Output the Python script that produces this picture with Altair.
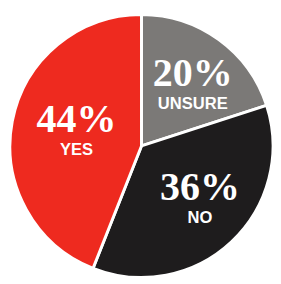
import altair as alt
import pandas as pd

answers = ["UNSURE", "NO", "YES"]
shares = [20, 36, 44]
pct_labels = ["20%", "36%", "44%"]
colors = ["#7b7977", "#1e1c1d", "#ee2a1f"]

df = pd.DataFrame({
    "answer": answers,
    "share": shares,
    "pct": pct_labels,
    "order": list(range(len(answers))),
})

cx, cy = 137, 138

base = alt.Chart(df).encode(
    theta=alt.Theta("share:Q", stack=True),
    order=alt.Order("order:Q"),
    x=alt.value(cx),
    y=alt.value(cy),
)

pie = base.mark_arc(outerRadius=135, stroke="white", strokeWidth=3).encode(
    color=alt.Color("answer:N", scale=alt.Scale(domain=answers, range=colors), legend=None)
)

pct = base.mark_text(radius=76, font="Liberation Serif", fontWeight="bold", fontSize=41,
                     color="white", baseline="alphabetic", align="center", dx=8, dy=0).encode(
    text="pct:N"
)

lab = base.mark_text(radius=76, font="Liberation Sans", fontWeight="bold", fontSize=17,
                     color="white", baseline="alphabetic", align="center", dx=8, dy=24).encode(
    text="answer:N"
)

chart = (pie + pct + lab).properties(
    width=272, height=274, padding=0, autosize=alt.AutoSizeParams(type="none")
).configure_view(stroke=None)

chart.save("out.html", embed_options={"renderer": "svg", "actions": False})
